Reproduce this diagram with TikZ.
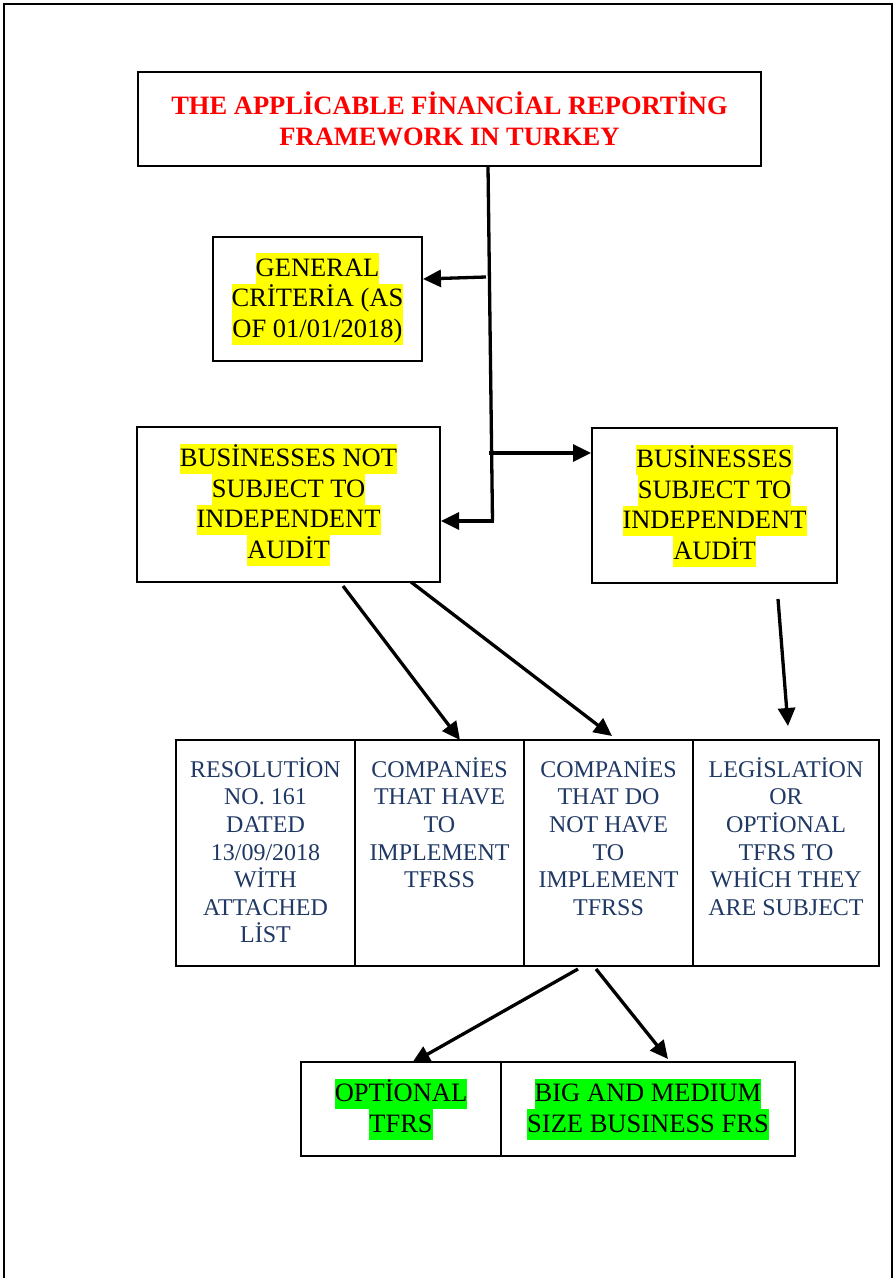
\documentclass[tikz,border=0pt]{standalone}
\usepackage{fontspec}
\setmainfont{Liberation Serif}
\usetikzlibrary{arrows.meta}
\definecolor{navy}{RGB}{31,56,100}
\definecolor{hlyellow}{RGB}{255,255,0}
\definecolor{hlgreen}{RGB}{0,255,0}
\newcommand\hly[1]{{\setlength{\fboxsep}{0pt}\colorbox{hlyellow}{\rule[-7.5pt]{0pt}{30.5pt}#1}}}
\newcommand\hlg[1]{{\setlength{\fboxsep}{0pt}\colorbox{hlgreen}{\rule[-7.5pt]{0pt}{30.5pt}#1}}}
\begin{document}
\begin{tikzpicture}[x=1pt,y=-1pt,
  box/.style={draw, line width=2pt, inner sep=0pt, align=center,
    font=\fontsize{26.5}{30.5}\selectfont},
  cell/.style={draw, line width=2pt, inner sep=0pt, minimum height=226pt},
  celltext/.style={anchor=north, align=center, text=navy, inner sep=0pt,
    font=\fontsize{24}{27.6}\selectfont},
  conn/.style={line width=3.3pt, -{Triangle[length=18pt,width=17pt]}},
  trunk/.style={line width=3.3pt},
  frame/.style={line width=2.4pt}]
\useasboundingbox (0,0) rectangle (895,1278);
\draw[frame] (4,1280) -- (4,4) -- (892,4) -- (892,1280);

% boxes
\node[box, minimum width=623pt, minimum height=94pt, text=red,
  font=\fontsize{26.5}{30.5}\selectfont\bfseries] (title) at (449.5,119)
  {THE APPLİCABLE FİNANCİAL REPORTİNG\\FRAMEWORK IN TURKEY};
\node[box, minimum width=209pt, minimum height=124pt] (general) at (317.5,299)
  {\hly{GENERAL}\\\hly{CRİTERİA (AS}\\\hly{OF 01/01/2018)}};
\node[box, minimum width=303pt, minimum height=155pt] (notaudit) at (288.5,504.5)
  {\hly{BUSİNESSES NOT}\\\hly{SUBJECT TO}\\\hly{INDEPENDENT}\\\hly{AUDİT}};
\node[box, minimum width=245pt, minimum height=155pt] (audit) at (714.5,505.5)
  {\hly{BUSİNESSES}\\\hly{SUBJECT TO}\\\hly{INDEPENDENT}\\\hly{AUDİT}};

% table
\node[cell, minimum width=179pt] (c1) at (265.5,853) {};
\node[cell, minimum width=169pt] (c2) at (439.5,853) {};
\node[cell, minimum width=169pt] (c3) at (608.5,853) {};
\node[cell, minimum width=186pt] (c4) at (786,853) {};
\node[celltext] (t1) at ([yshift=-17pt]c1.north)
  {\rule{0pt}{21pt}RESOLUTİON\\NO. 161\\DATED\\13/09/2018\\WİTH\\ATTACHED\\LİST};
\node[celltext] (t2) at ([yshift=-17pt]c2.north)
  {\rule{0pt}{21pt}COMPANİES\\THAT HAVE\\TO\\IMPLEMENT\\TFRSS};
\node[celltext] (t3) at ([yshift=-17pt]c3.north)
  {\rule{0pt}{21pt}COMPANİES\\THAT DO\\NOT HAVE\\TO\\IMPLEMENT\\TFRSS};
\node[celltext] (t4) at ([yshift=-17pt]c4.north)
  {\rule{0pt}{21pt}LEGİSLATİON\\OR\\OPTİONAL\\TFRS TO\\WHİCH THEY\\ARE SUBJECT};

% bottom boxes
\node[box, minimum width=200pt, minimum height=94pt] (b1) at (401,1109)
  {\hlg{OPTİONAL}\\\hlg{TFRS}};
\node[box, minimum width=294pt, minimum height=94pt] (b2) at (648,1109)
  {\hlg{BIG AND MEDIUM}\\\hlg{SIZE BUSINESS FRS}};

% trunk and connectors
\coordinate (j0) at (488,166);
\coordinate (j1) at (492.5,521);
\coordinate (jg) at (486,277);
\coordinate (ja) at (489,453);
\draw[trunk] (j0) -- (j1);
\draw[conn] (jg) -- ([yshift=20pt]general.east);
\draw[conn] (ja) -- ([yshift=52.5pt]audit.west);
\draw[conn] ([xshift=1.6pt]j1) -- ([yshift=-16.5pt]notaudit.east);
\draw[conn] ([xshift=54.5pt,yshift=-3pt]notaudit.south) -- ([xshift=20.5pt,yshift=-1pt]c2.north);
\draw[conn] ([xshift=122.5pt,yshift=1pt]notaudit.south) -- ([xshift=3.5pt,yshift=3pt]c3.north);
\draw[conn] ([xshift=63.5pt,yshift=-15pt]audit.south) -- ([xshift=2pt,yshift=13pt]c4.north);
\draw[conn] ([xshift=-30.5pt,yshift=-2pt]c3.south) -- ([xshift=11pt,yshift=-2pt]b1.north);
\draw[conn] ([xshift=-12.5pt,yshift=-2pt]c3.south) -- ([xshift=20pt,yshift=2pt]b2.north);
\end{tikzpicture}
\end{document}
